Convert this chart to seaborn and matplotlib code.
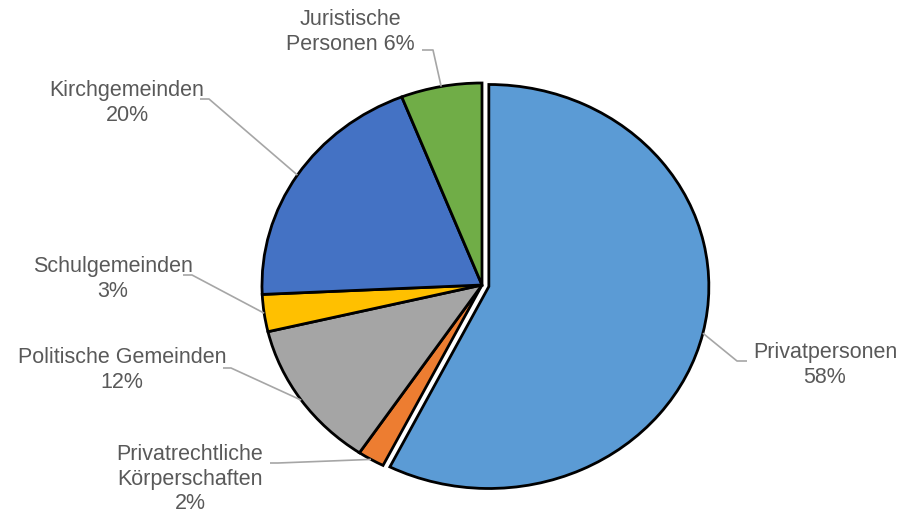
import matplotlib
matplotlib.use("Agg")
import matplotlib.pyplot as plt
import seaborn as sns
import numpy as np

# ---- data ----
categories = ["Privatpersonen", "Privatrechtliche\nKörperschaften", "Politische Gemeinden",
              "Schulgemeinden", "Kirchgemeinden", "Juristische\nPersonen"]
values = [58, 2, 12, 3, 20, 6]
pct_labels = ["58%", "2%", "12%", "3%", "20%", "6%"]
colors = ["#5B9BD5", "#ED7D31", "#A5A5A5", "#FFC000", "#4472C4", "#70AD47"]
explode = [0.032, 0, 0, 0, 0, 0]

# ---- layout (pixel positions of text blocks and leader elbows) ----
W, H = 905, 516
CX, CY, RX, RY = 482, 285, 220, 202
text_pos = [(825, 365), (190, 479), (122, 370), (113, 279), (127, 103), (350, 32)]
leader_text_end = [(747, 361), (270, 463), (223, 368), (183, 275), (200, 99), (422, 50)]
leader_elbow = [(737, 361), (278, 463), (231, 368), (192, 275), (209, 99), (433, 50)]

sns.set_theme(style="white")
plt.rcParams["font.family"] = ["Liberation Sans", "DejaVu Sans"]


def px(x, y):
    return ((x - CX) / RX, (CY - y) / RY)


fig = plt.figure(figsize=(W / 100, H / 100), dpi=100)
ax = fig.add_axes([0, 0, 1, 1])
wedges, _ = ax.pie(values, colors=colors, startangle=90, counterclock=False,
                   explode=explode,
                   wedgeprops=dict(edgecolor="black", linewidth=2.0))
ax.set_aspect("auto")
x0, y1 = px(0, 0)
x1, y0 = px(W, H)
ax.set_xlim(x0, x1)
ax.set_ylim(y0, y1)
ax.axis("off")

for i, w in enumerate(wedges):
    th = np.deg2rad((w.theta1 + w.theta2) / 2)
    cx, cy = w.center
    pie_pt = (cx + w.r * np.cos(th), cy + w.r * np.sin(th))
    e = px(*leader_elbow[i])
    t = px(*leader_text_end[i])
    ax.plot([pie_pt[0], e[0], t[0]], [pie_pt[1], e[1], t[1]],
            color="#A6A6A6", lw=1.2, solid_capstyle="butt", zorder=1)
    if i == 5:
        label = categories[i] + " " + pct_labels[i]
    else:
        label = categories[i] + "\n" + pct_labels[i]
    tx, ty = px(*text_pos[i])
    ax.text(tx, ty, label, ha="center", va="center", fontsize=15.5,
            color="#595959", linespacing=1.22, multialignment="center")

fig.savefig("out.png", dpi=100)
